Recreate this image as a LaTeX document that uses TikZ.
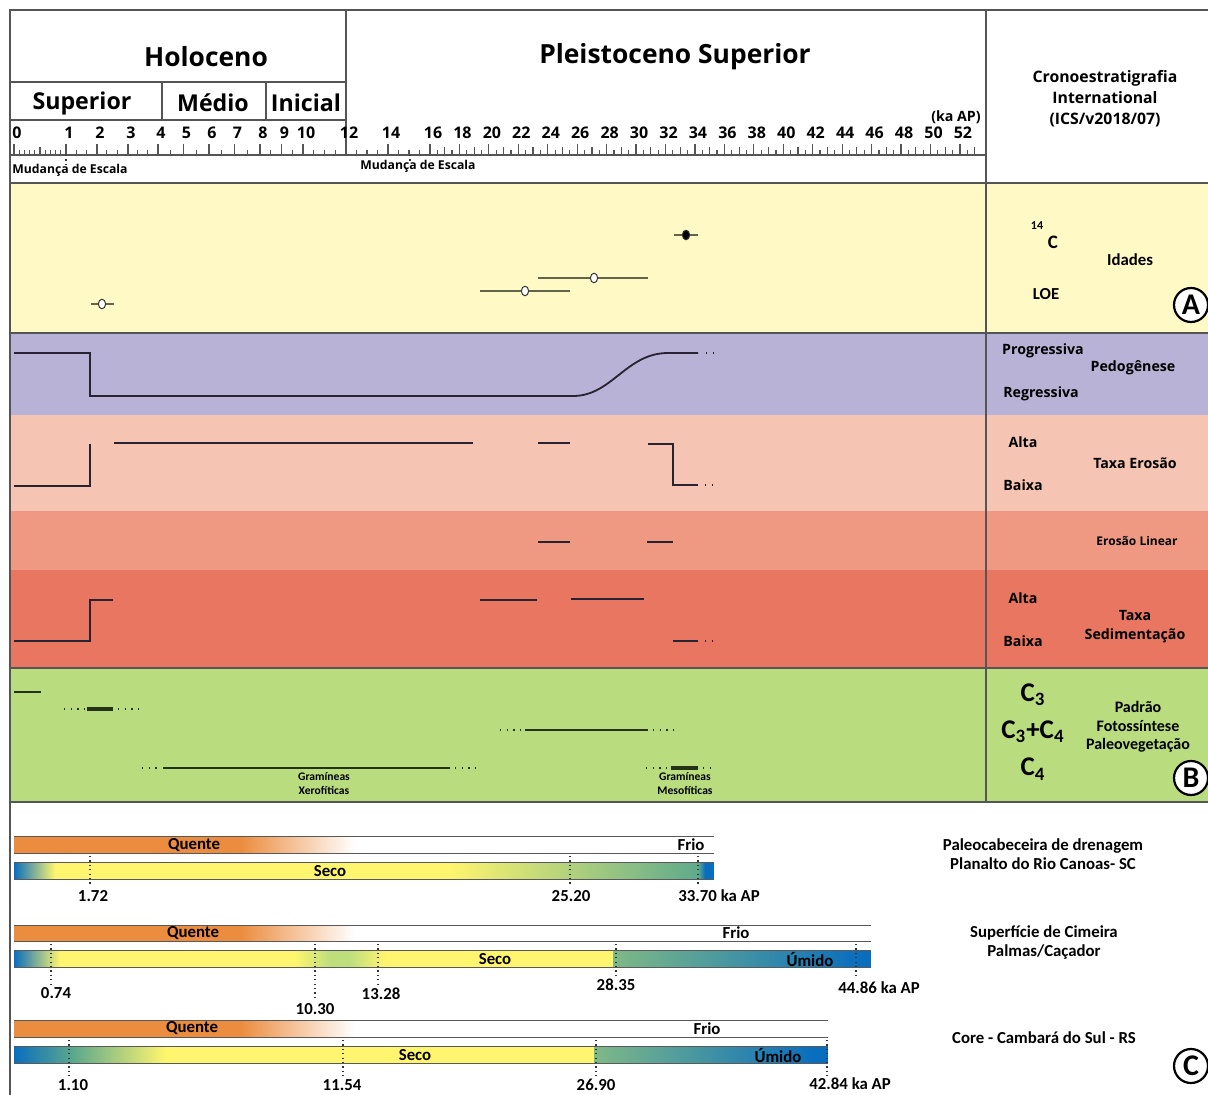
\documentclass[tikz,border=0pt]{standalone}
\usepackage{fontspec}
\setmainfont{Open Sans}
\newfontfamily\condfont{Carlito}
\usetikzlibrary{shapes.geometric}

\definecolor{bandA}{RGB}{255,249,197}
\definecolor{bandPed}{RGB}{184,178,214}
\definecolor{bandEro}{RGB}{245,196,178}
\definecolor{bandLin}{RGB}{239,153,131}
\definecolor{bandSed}{RGB}{232,118,96}
\definecolor{bandB}{RGB}{185,221,126}
\definecolor{frameC}{RGB}{85,85,85}
\definecolor{curveC}{RGB}{40,35,50}
\definecolor{leafC}{RGB}{35,50,25}
\definecolor{ageC}{RGB}{100,100,75}
\definecolor{quente}{RGB}{236,140,62}
\definecolor{umido}{RGB}{10,110,190}
\definecolor{seco}{RGB}{255,245,110}
\definecolor{misto}{RGB}{95,170,140}
\definecolor{claro}{RGB}{190,222,125}

\tikzset{
  frame/.style={draw=frameC,line width=0.8pt},
  tickline/.style={draw=frameC,line width=0.6pt},
  trend/.style={draw=curveC,line width=0.9pt},
  leaf/.style={draw=leafC,line width=1.1pt},
  trail/.style={line width=0.9pt,dash pattern=on 0.7pt off 2.6pt},
  barline/.style={draw=gray!70!black,line width=0.5pt},
  markline/.style={draw=black!80,line width=0.6pt,dash pattern=on 0.6pt off 1.6pt},
  hdr/.style={font=\bfseries\fontsize{13.2}{15}\selectfont,inner sep=0},
  sub/.style={font=\bfseries\fontsize{11.6}{13}\selectfont,inner sep=0},
  num/.style={font=\bfseries\fontsize{8}{9}\selectfont,inner sep=0},
  small/.style={font=\bfseries\fontsize{6.1}{7}\selectfont,inner sep=0},
  side/.style={font=\bfseries\fontsize{7.1}{9.5}\selectfont,align=center,inner sep=0},
  cond/.style={font=\condfont\bfseries\fontsize{8.4}{9.5}\selectfont,align=center,inner sep=0},
  tiny/.style={font=\condfont\bfseries\fontsize{5.8}{7}\selectfont,align=center,inner sep=0},
  big/.style={font=\condfont\bfseries\fontsize{13.5}{14}\selectfont,inner sep=0},
  letter/.style={circle,draw=black,fill=white,line width=1.1pt,minimum size=17pt,inner sep=0,
    font=\condfont\bfseries\fontsize{15}{15}\selectfont},
  ageopen/.style={ellipse,draw=black!80,fill=white,line width=0.5pt,inner sep=0,minimum width=3.6pt,minimum height=4.8pt},
  agefull/.style={ageopen,fill=black}
}

\begin{document}
\begin{tikzpicture}[x=0.5pt,y=-0.5pt]
\useasboundingbox (0,0) rectangle (1208,1095);
\clip (0,0) rectangle (1208,1095);
\fill[white] (0,0) rectangle (1208,1095);

\fill[bandA] (10,183) rectangle (1208,333);
\fill[bandPed] (10,333) rectangle (1208,415);
\fill[bandEro] (10,415) rectangle (1208,511);
\fill[bandLin] (10,511) rectangle (1208,570);
\fill[bandSed] (10,570) rectangle (1208,668);
\fill[bandB] (10,668) rectangle (1208,802);

\draw[frame] (1208,10) -- (10,10) -- (10,1095);
\draw[frame] (986,10) -- (986,802);
\foreach \y in {183,333,668,802}
  \draw[frame] (10,\y) -- (1208,\y);
\draw[frame] (10,82) -- (346,82);
\draw[frame] (10,120) -- (346,120);
\draw[frame] (346,10) -- (346,155);
\draw[frame] (162,82) -- (162,120);
\draw[frame] (266,82) -- (266,120);
\draw[frame] (10,155) -- (986,155);

\node[hdr] (holo) at (206,57) {Holoceno};
\node[hdr] (pleis) at (675,57) {Pleistoceno Superior};
\node[sub] (sup) at (82,103) {Superior};
\node[sub] (med) at (213,103) {Médio};
\node[sub] (ini) at (306,103) {Inicial};
\node[side] (ka) at (956,117) {(ka AP)};
\node[side,font=\bfseries\fontsize{7.9}{10.5}\selectfont] (ics) at (1105,99) {Cronoestratigrafia\\International\\(ICS/v2018/07)};

\foreach \xa/\dx/\n in {14/5.2/10,66/10.22/9,158/12.75/8,260/10.75/8,346/10.5/8,430/7.36/74}
  \foreach \i in {1,...,\n}
    \draw[tickline] ({\xa+\dx*\i},155) -- ++(0,-5);
\draw[tickline] (40,155) -- ++(0,-8);
\foreach \v in {17,...,53}
  \draw[tickline] ({430+14.72*(\v-16)},155) -- ++(0,-8);
\foreach \x/\v in {14/0,66/1,97/2,128/3,158/4,183.5/5,209/6,234.5/7,260/8,281.5/9,303/10,346/12,388/14,430/16}{
  \draw[tickline] (\x,155) -- ++(0,-11);
  \node[num] (n\v) at (\x+3,133) {\v};
}
\foreach \v in {18,20,...,52}{
  \draw[tickline] ({430+14.72*(\v-16)},155) -- ++(0,-11);
  \node[num] (n\v) at ({433+14.72*(\v-16)},133) {\v};
}
\node[small,anchor=west] (mudA) at (12,170) {Mudança de Escala};
\node[small,anchor=west] (mudB) at (360,166) {Mudança de Escala};
\draw[markline] (66,155) -- (66,165);
\draw[markline] (410,155) -- (410,162);

\draw[draw=ageC,line width=0.7pt] (674,235) -- (698,235);
\node[agefull] (cA) at (686,235) {};
\draw[draw=ageC,line width=0.7pt] (538,278) -- (648,278);
\node[ageopen] (loeA) at (594,278) {};
\draw[draw=ageC,line width=0.7pt] (480,291) -- (570,291);
\node[ageopen] (loeB) at (525,291) {};
\draw[draw=ageC,line width=0.7pt] (91,304) -- (114,304);
\node[ageopen] (loeC) at (102,304) {};
\node[cond,font=\condfont\bfseries\fontsize{6}{6}\selectfont] (iso) at (1037,226) {14};
\node[cond,font=\condfont\bfseries\fontsize{9.5}{9.5}\selectfont] (carb) at (1053,242) {C};
\node[cond] (idades) at (1130,260) {Idades};
\node[cond] (loe) at (1046,294) {LOE};
\node[letter] (labA) at (1191,305) {A};

\draw[trend] (14,353) -- (90,353) -- (90,396) -- (573,396) .. controls (612,396) and (626,353) .. (668,353) -- (698,353);
\draw[trend,trail] (706,353) -- (718,353);
\node[side] (prog) at (1043,351) {Progressiva};
\node[side] (regr) at (1041,394) {Regressiva};
\node[side] (pedo) at (1133,368) {Pedogênese};

\draw[trend] (14,486) -- (90,486) -- (90,444);
\draw[trend] (114,443) -- (473,443);
\draw[trend] (538,443) -- (570,443);
\draw[trend] (648,444) -- (673,444) -- (673,485) -- (698,485);
\draw[trend,trail] (705,485) -- (716,485);
\node[side] (altaE) at (1023,442) {Alta};
\node[side] (baixaE) at (1023,485) {Baixa};
\node[side] (taxaE) at (1135,463) {Taxa Erosão};

\draw[trend] (538,542) -- (570,542);
\draw[trend] (647,542) -- (673,542);
\node[side,font=\bfseries\fontsize{6}{7}\selectfont] (linear) at (1137,541) {Erosão Linear};

\draw[trend] (14,641) -- (90,641) -- (90,600) -- (113,600);
\draw[trend] (480,600) -- (537,600);
\draw[trend] (571,599) -- (644,599);
\draw[trend] (673,641) -- (698,641);
\draw[trend,trail] (705,641) -- (716,641);
\node[side] (altaS) at (1023,598) {Alta};
\node[side] (baixaS) at (1023,641) {Baixa};
\node[side] (taxaS) at (1135,627) {Taxa\\Sedimentação};

\draw[leaf] (14,692) -- (41,692);
\draw[leaf,trail] (64,709) -- (86,709);
\draw[leaf,line width=1.6pt] (87,709) -- (113,709);
\draw[leaf,trail] (118,709) -- (140,709);
\draw[leaf,trail] (500,730) -- (522,730);
\draw[leaf] (525,730) -- (648,730);
\draw[leaf,trail] (653,730) -- (675,730);
\draw[leaf,trail] (142,768) -- (161,768);
\draw[leaf] (163,768) -- (450,768);
\draw[leaf,trail] (455,768) -- (476,768);
\draw[leaf,trail] (646,768) -- (669,768);
\draw[leaf,line width=1.6pt] (671,768) -- (698,768);
\draw[leaf,trail] (703,768) -- (716,768);
\node[tiny] (xero) at (324,784) {Gramíneas\\Xerofíticas};
\node[tiny] (meso) at (685,784) {Gramíneas\\Mesofíticas};
\node[big] (cthree) at (1033,695) {C\textsubscript{3}};
\node[big] (cmix) at (1033,732) {C\textsubscript{3}+C\textsubscript{4}};
\node[big] (cfour) at (1033,769) {C\textsubscript{4}};
\node[cond,font=\condfont\bfseries\fontsize{8}{9.2}\selectfont] (padrao) at (1138,727) {Padrão\\Fotossíntese\\Paleovegetação};
\node[letter] (labB) at (1191,778) {B};

\fill[quente] (14,836) rectangle (240,853);
\shade[left color=quente,right color=white] (240,836) rectangle (355,853);
\draw[barline] (14,836) -- (714,836) (14,853) -- (714,853);
\shade[left color=umido,right color=seco] (14,862) rectangle (55,879);
\fill[seco] (55,862) rectangle (450,879);
\shade[left color=seco,right color=misto] (450,862) rectangle (698,879);
\shade[left color=misto,right color=umido] (698,862) rectangle (705,879);
\fill[umido] (705,862) rectangle (714,879);
\draw[barline] (14,862) -- (714,862) (14,879) -- (714,879);
\node[cond] (quenteA) at (194,845) {Quente};
\node[cond] (frioA) at (691,845) {Frio};
\node[cond] (secoA) at (330,871) {Seco};
\foreach \x in {90,570,698}
  \draw[markline] (\x,856) -- (\x,886);
\node[cond] (vA) at (93,896) {1.72};
\node[cond] (vB) at (571,896) {25.20};
\node[cond,anchor=west] (vC) at (678,896) {33.70 ka AP};
\node[cond] (siteA) at (1043,854) {Paleocabeceira de drenagem\\Planalto do Rio Canoas- SC};

\fill[quente] (14,925) rectangle (240,941);
\shade[left color=quente,right color=white] (240,925) rectangle (355,941);
\draw[barline] (14,925) -- (871,925) (14,941) -- (871,941);
\shade[left color=umido,right color=seco] (14,950) rectangle (60,967);
\fill[seco] (60,950) rectangle (295,967);
\shade[left color=seco,right color=claro] (295,950) rectangle (330,967);
\fill[claro] (330,950) rectangle (350,967);
\shade[left color=claro,right color=seco] (350,950) rectangle (385,967);
\fill[seco] (385,950) rectangle (613,967);
\shade[left color=misto!80!seco,right color=umido] (613,950) rectangle (858,967);
\fill[umido] (858,950) rectangle (871,967);
\draw[barline] (14,950) -- (871,950) (14,967) -- (871,967);
\node[cond] (quenteB) at (193,933) {Quente};
\node[cond] (frioB) at (736,933) {Frio};
\node[cond] (secoB) at (495,959) {Seco};
\node[cond] (umidoB) at (810,959) {Úmido};
\draw[markline] (51,944) -- (51,984);
\draw[markline] (315,944) -- (315,1000);
\draw[markline] (378,944) -- (378,985);
\draw[markline] (616,944) -- (616,976);
\draw[markline] (856,944) -- (856,979);
\node[cond] (vD) at (56,993) {0.74};
\node[cond] (vE) at (315,1009) {10.30};
\node[cond] (vF) at (381,994) {13.28};
\node[cond] (vG) at (616,985) {28.35};
\node[cond,anchor=west] (vH) at (838,988) {44.86 ka AP};
\node[cond] (siteB) at (1044,943) {Superfície de Cimeira\\Palmas/Caçador};

\fill[quente] (14,1020) rectangle (240,1037);
\shade[left color=quente,right color=white] (240,1020) rectangle (355,1037);
\draw[barline] (14,1020) -- (828,1020) (14,1037) -- (828,1037);
\shade[left color=umido,right color=misto] (14,1046) rectangle (75,1063);
\shade[left color=misto,right color=seco] (75,1046) rectangle (165,1063);
\fill[seco] (165,1046) rectangle (594,1063);
\shade[left color=misto!80!seco,right color=umido] (594,1046) rectangle (812,1063);
\fill[umido] (812,1046) rectangle (828,1063);
\draw[barline] (14,1046) -- (828,1046) (14,1063) -- (828,1063);
\node[cond] (quenteC) at (192,1028) {Quente};
\node[cond] (frioC) at (707,1029) {Frio};
\node[cond] (secoC) at (415,1055) {Seco};
\node[cond] (umidoC) at (778,1055) {Úmido};
\foreach \x in {69,343,596,827}
  \draw[markline] (\x,1040) -- (\x,1076);
\node[cond] (vI) at (73,1085) {1.10};
\node[cond] (vJ) at (342,1085) {11.54};
\node[cond] (vK) at (596,1085) {26.90};
\node[cond,anchor=west] (vL) at (809,1084) {42.84 ka AP};
\node[cond] (siteC) at (1044,1038) {Core - Cambará do Sul - RS};
\node[letter] (labC) at (1191,1066) {C};
\end{tikzpicture}
\end{document}
